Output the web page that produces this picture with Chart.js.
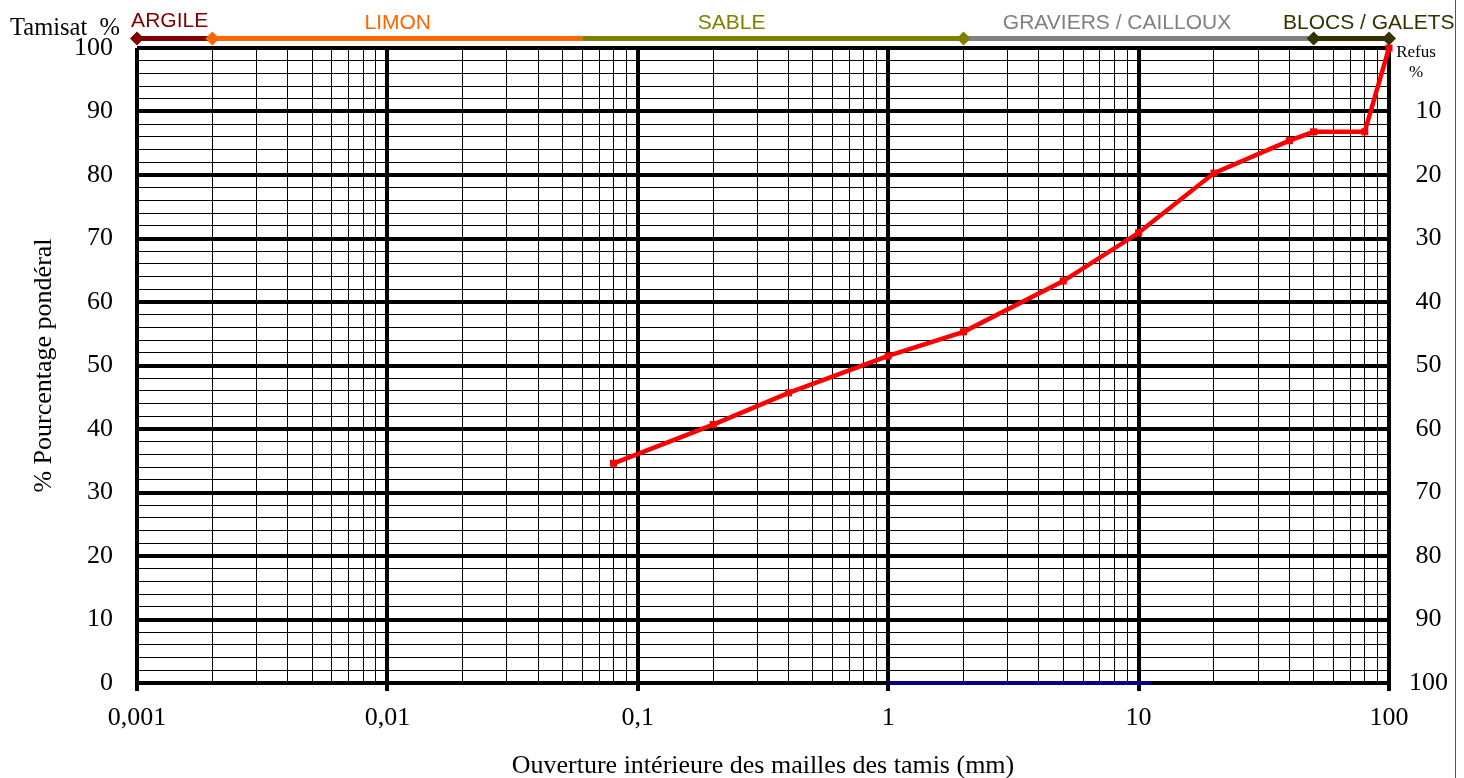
<!DOCTYPE html>
<html>
<head>
<meta charset="utf-8">
<script src="https://cdn.jsdelivr.net/npm/chart.js@4.4.1/dist/chart.umd.min.js"></script>
<style>
  html, body { margin: 0; padding: 0; background: #fff; }
  canvas { display: block; }
</style>
</head>
<body>
<canvas id="c" width="1464" height="778"></canvas>
<script>
// ---- Data ----
const sieveSizes  = [0.08, 0.2, 0.4, 1, 2, 5, 10, 20, 40, 50, 80, 100];
const passingPct  = [34.6, 40.7, 45.7, 51.5, 55.3, 63.3, 70.9, 80.3, 85.4, 86.8, 86.8, 100];
const blueSizes   = [1, 11.2];
const blueValues  = [0, 0];
const decadeValues = [0.001, 0.01, 0.1, 1, 10, 100];
const decadeLabels = ['0,001', '0,01', '0,1', '1', '10', '100'];
const zoneNames  = ['ARGILE', 'LIMON', 'SABLE', 'GRAVIERS / CAILLOUX', 'BLOCS / GALETS'];
const zoneBounds = [0.001, 0.002, 0.06, 2, 50, 100];
const zoneColors = ['#800000', '#FF6600', '#808000', '#808080', '#333300'];
const zoneLabelAt = [0.00135, 0.011, 0.237, 8.2, 83];
const zoneMarkers = [[0.001, 0], [0.002, 1], [2, 2], [50, 4], [100, 4]];
const yTickLabels = [0, 10, 20, 30, 40, 50, 60, 70, 80, 90, 100];

const SERIF = '"Liberation Serif", "DejaVu Serif", serif';
const SANS = '"Liberation Sans", Arial, sans-serif';

const xTickValues = [];
for (let i = 0; i < decadeValues.length - 1; i++) {
  for (let m = 1; m <= 9; m++) xTickValues.push(+(m * decadeValues[i]).toPrecision(6));
}
xTickValues.push(decadeValues[decadeValues.length - 1]);

function decadeIndex(v) {
  for (let i = 0; i < decadeValues.length; i++) {
    if (Math.abs(v - decadeValues[i]) < decadeValues[i] * 1e-6) return i;
  }
  return -1;
}

const decoPlugin = {
  id: 'deco',
  afterDraw(chart) {
    const ctx = chart.ctx;
    const xs = chart.scales.x;
    const top = chart.chartArea.top;
    const bandY = top - 9.5;
    ctx.save();
    // zone band
    ctx.lineCap = 'butt';
    for (let i = 0; i < zoneNames.length; i++) {
      const x0 = xs.getPixelForValue(zoneBounds[i]);
      const x1 = xs.getPixelForValue(zoneBounds[i + 1]);
      ctx.strokeStyle = zoneColors[i];
      ctx.lineWidth = 5;
      ctx.beginPath();
      ctx.moveTo(x0, bandY);
      ctx.lineTo(x1, bandY);
      ctx.stroke();
    }
    // diamonds
    zoneMarkers.forEach(([v, ci]) => {
      const x = xs.getPixelForValue(v);
      ctx.fillStyle = zoneColors[ci];
      ctx.beginPath();
      ctx.moveTo(x, bandY - 7);
      ctx.lineTo(x + 7, bandY);
      ctx.lineTo(x, bandY + 7);
      ctx.lineTo(x - 7, bandY);
      ctx.closePath();
      ctx.fill();
    });
    // zone labels
    ctx.font = '21px ' + SANS;
    ctx.textAlign = 'center';
    ctx.textBaseline = 'alphabetic';
    for (let i = 0; i < zoneNames.length; i++) {
      ctx.fillStyle = zoneColors[i];
      ctx.fillText(zoneNames[i], xs.getPixelForValue(zoneLabelAt[i]), i === 0 ? 27 : 28.5);
    }
    // Tamisat %
    ctx.fillStyle = '#000';
    ctx.font = '24.5px ' + SERIF;
    ctx.textAlign = 'left';
    ctx.fillText('Tamisat  %', 10, 35);
    // Refus %
    ctx.font = '17px ' + SERIF;
    ctx.textAlign = 'center';
    ctx.fillText('Refus', 1416, 57);
    ctx.fillText('%', 1416, 77);
    // right frame line
    ctx.strokeStyle = '#555';
    ctx.lineWidth = 1;
    ctx.beginPath();
    ctx.moveTo(1455.5, 0);
    ctx.lineTo(1455.5, 778);
    ctx.stroke();
    ctx.restore();
  }
};

new Chart(document.getElementById('c'), {
  type: 'line',
  data: {
    datasets: [
      {
        label: 'Tamisat',
        data: sieveSizes.map((s, i) => ({ x: s, y: passingPct[i] })),
        borderColor: '#FF0000',
        backgroundColor: '#FF0000',
        borderWidth: 4.5,
        pointStyle: 'rect',
        pointRadius: 5,
        pointBorderWidth: 0,
        tension: 0,
        clip: false,
        yAxisID: 'y'
      },
      {
        label: 'Série 2',
        data: blueSizes.map((s, i) => ({ x: s, y: blueValues[i] })),
        borderColor: '#000080',
        backgroundColor: '#000080',
        borderWidth: 4,
        pointRadius: 0,
        clip: false,
        yAxisID: 'y'
      }
    ]
  },
  options: {
    responsive: false,
    animation: false,
    layout: { padding: { top: 48, left: 0, right: 0, bottom: 0 } },
    plugins: { legend: { display: false }, tooltip: { enabled: false } },
    scales: {
      x: {
        type: 'logarithmic',
        position: 'bottom',
        min: 0.001,
        max: 100,
        afterBuildTicks: (s) => { s.ticks = xTickValues.map(v => ({ value: v })); },
        afterFit: (s) => { s.height = 95; },
        ticks: {
          autoSkip: false, maxRotation: 0, minRotation: 0, padding: 12,
          color: '#000', font: { family: SERIF, size: 26 },
          callback: (v) => { const i = decadeIndex(v); return i >= 0 ? decadeLabels[i] : ''; }
        },
        grid: {
          color: '#000',
          lineWidth: (c) => (c.tick && decadeIndex(c.tick.value) >= 0) ? 4 : 1,
          drawTicks: true,
          tickLength: 8,
          tickWidth: 4,
          tickColor: (c) => (c.tick && decadeIndex(c.tick.value) >= 0) ? '#000' : 'rgba(0,0,0,0)'
        },
        border: { display: false },
        title: {
          display: true, text: 'Ouverture intérieure des mailles des tamis (mm)',
          color: '#000', font: { family: SERIF, size: 26 }, padding: { top: 0, bottom: -4 }
        }
      },
      y: {
        position: 'left',
        min: 0, max: 100,
        afterFit: (s) => { s.width = 137; },
        ticks: {
          stepSize: 2, autoSkip: false, padding: 24,
          color: '#000', font: { family: SERIF, size: 26 },
          callback: (v) => yTickLabels.includes(v) ? String(v) : ''
        },
        grid: {
          color: '#000',
          lineWidth: (c) => (c.tick && yTickLabels.includes(c.tick.value)) ? 4 : 1,
          drawTicks: false
        },
        border: { display: false },
        title: {
          display: true, text: '% Pourcentage pondéral',
          color: '#000', font: { family: SERIF, size: 26 }, padding: { top: 29, bottom: 0 }
        }
      },
      y2: {
        position: 'right',
        min: 0, max: 100, reverse: true,
        afterFit: (s) => { s.width = 75; },
        ticks: {
          stepSize: 10, autoSkip: false, padding: 20, crossAlign: 'center',
          color: '#000', font: { family: SERIF, size: 26 },
          callback: (v) => v === 0 ? '' : String(v)
        },
        grid: { display: false, drawTicks: false },
        border: { display: false }
      }
    }
  },
  plugins: [decoPlugin]
});
</script>
</body>
</html>
